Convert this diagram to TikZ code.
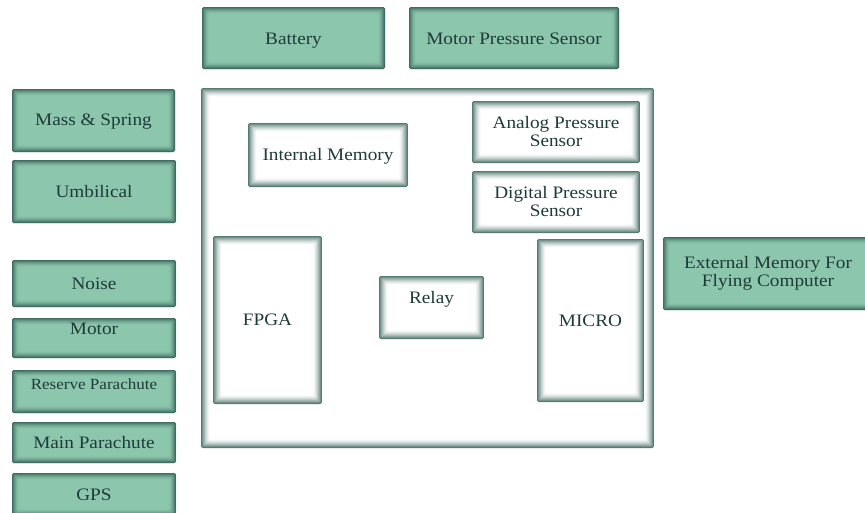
\documentclass[tikz,border=0pt]{standalone}
\usepackage{fontspec}
\setmainfont{Liberation Serif}
\definecolor{gfill}{HTML}{8CC7AD}
\definecolor{gedge}{HTML}{3F6A61}
\definecolor{wedge}{HTML}{52786F}
\definecolor{txt}{HTML}{1F3A3A}
\newcommand{\wtx}[1]{\scalebox{1.1}[1]{#1}}
\newcommand{\lift}[2]{\raisebox{#1}[12pt][4pt]{#2}}
\tikzset{
  glow/.style n args={3}{fill=#2, path picture={
     \foreach \i in {0,...,#3}{
        \pgfmathtruncatemacro\p{100*(1-\i/(#3+1))^1.6}
        \pgfmathsetmacro\d{\i+0.5}
        \draw[draw=#1!\p!#2, line width=1.1pt]
          ([shift={(\d pt,\d pt)}]path picture bounding box.south west) rectangle
          ([shift={(-\d pt,-\d pt)}]path picture bounding box.north east);
     }}},
  box/.style={rounded corners=1.5pt, inner sep=0pt, align=center, text=txt,
     font=\fontsize{17.5}{18}\selectfont},
  gbox/.style={box, glow={gedge}{gfill}{6}},
  wbox/.style={box, glow={wedge}{white}{8}},
}
\begin{document}
\begin{tikzpicture}[x=1pt,y=-1pt]
\useasboundingbox (0,0) rectangle (865,512);
% top
\node[gbox, minimum width=183pt, minimum height=62pt] (battery) at (293.5,38) {\lift{-2.8pt}{\wtx{Battery}}};
\node[gbox, minimum width=210pt, minimum height=62pt] (mps) at (514,38) {\lift{-2.8pt}{\wtx{Motor Pressure Sensor}}};
% left column
\node[gbox, minimum width=163pt, minimum height=63pt] (mass) at (93.5,120.5) {\lift{-1.3pt}{\wtx{Mass \& Spring}}};
\node[gbox, minimum width=164pt, minimum height=63pt] (umb) at (94,191.5) {\wtx{Umbilical}};
\node[gbox, minimum width=164pt, minimum height=47pt] (noise) at (94,283.5) {\wtx{Noise}};
\node[gbox, minimum width=164pt, minimum height=40pt] (motor) at (94,338) {\lift{7.2pt}{\wtx{Motor}}};
\node[gbox, minimum width=164pt, minimum height=43pt, font=\fontsize{15.5}{16}\selectfont] (reserve) at (94,391.5) {\lift{6.4pt}{\wtx{Reserve Parachute}}};
\node[gbox, minimum width=164pt, minimum height=41pt] (main) at (94,442.5) {\wtx{Main Parachute}};
\node[gbox, minimum width=164pt, minimum height=43pt] (gps) at (94,494.5) {\wtx{GPS}};
% big board
\node[wbox, minimum width=453pt, minimum height=360pt] (board) at (427.5,268) {};
\node[wbox, minimum width=160pt, minimum height=64pt] (intmem) at (328,155) {\lift{-1.8pt}{\wtx{Internal Memory}}};
\node[wbox, minimum width=168pt, minimum height=62pt] (analog) at (556,132) {\wtx{Analog Pressure}\\\wtx{Sensor}};
\node[wbox, minimum width=168pt, minimum height=62pt] (digital) at (556,202) {\wtx{Digital Pressure}\\\wtx{Sensor}};
\node[wbox, minimum width=109pt, minimum height=168pt] (fpga) at (267.5,320) {\wtx{FPGA}};
\node[wbox, minimum width=105pt, minimum height=63pt] (relay) at (431.5,307.5) {\lift{7.7pt}{\wtx{Relay}}};
\node[wbox, minimum width=107pt, minimum height=163pt] (micro) at (590.5,320.5) {\wtx{MICRO}};
% right
\node[gbox, minimum width=210pt, minimum height=73pt] (extmem) at (768,273.5) {\wtx{External Memory For}\\\wtx{Flying Computer}};
\end{tikzpicture}
\end{document}
